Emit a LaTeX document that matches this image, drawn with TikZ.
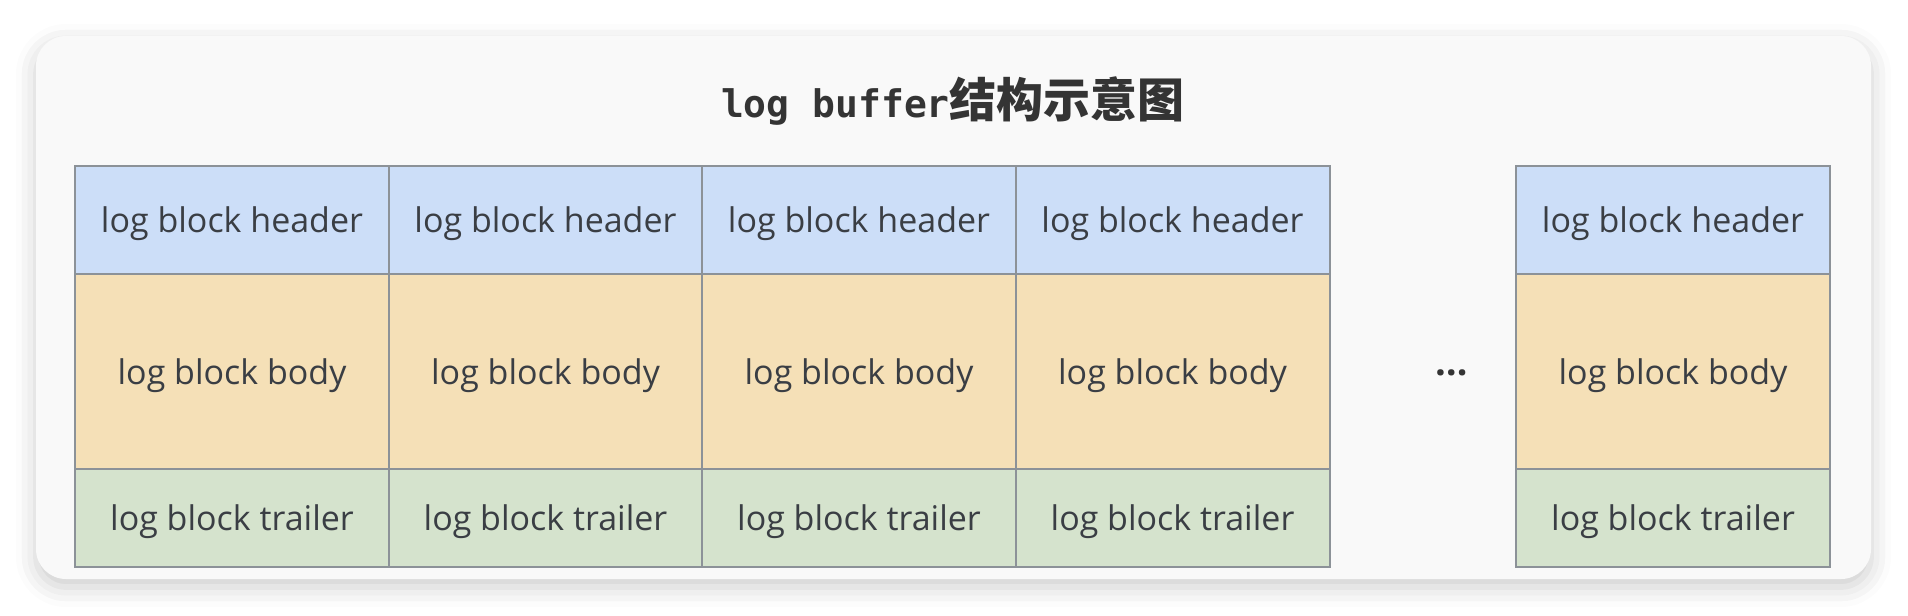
\documentclass[tikz,border=0pt]{standalone}
\usepackage{fontspec}
\setmainfont{Open Sans}
\newfontfamily\cjkfont{Noto Sans CJK SC}
\newfontfamily\titlemono{DejaVu Sans Mono}
\usetikzlibrary{shadows.blur}

\definecolor{cardfill}{RGB}{249,249,249}
\definecolor{hdrblue}{RGB}{204,222,248}
\definecolor{bodysand}{RGB}{245,224,183}
\definecolor{trlgreen}{RGB}{213,227,205}
\definecolor{cellline}{RGB}{140,146,152}
\definecolor{labelgray}{RGB}{58,62,68}
\definecolor{titlegray}{RGB}{52,52,52}

\tikzset{every picture/.style={line width=0.75pt},
  blockcell/.style={draw=cellline, line width=1pt, anchor=north west, inner sep=0pt,
    minimum width=157pt, text=labelgray, text depth=0pt, font=\fontsize{17}{20}\selectfont},
  hdrcell/.style={blockcell, fill=hdrblue, minimum height=54pt},
  bodycell/.style={blockcell, fill=bodysand, minimum height=97.5pt},
  trlcell/.style={blockcell, fill=trlgreen, minimum height=49pt}}

\begin{document}
\begin{tikzpicture}[x=0.5pt,y=0.5pt,yscale=-1,xscale=1]
\useasboundingbox (0,0) rectangle (1908,616);

%Card
\path [fill=cardfill, rounded corners=15pt,
  blur shadow={shadow xshift=0pt, shadow yshift=-4pt, shadow blur radius=10pt, shadow opacity=20}]
  (36,36) rectangle (1871,579);

% Title
\node [text=titlegray] (title) at (953,101) {\titlemono\bfseries\fontsize{19}{22}\selectfont log buffer\cjkfont\fontsize{23.5}{26}\selectfont 结构示意图};

% Blocks
\foreach \i/\x in {1/74, 2/387.5, 3/701, 4/1014.5, 5/1515} {
  \node [hdrcell]  (hdr\i)  at (\x,165) {log block header};
  \node [bodycell] (body\i) at (\x,273) {log block body};
  \node [trlcell]  (trl\i)  at (\x,468) {log block trailer};
}

% Dots
\node [text=titlegray, anchor=base, font=\bfseries\fontsize{19}{22}\selectfont] (dots) at (1452,375) {…};

\end{tikzpicture}
\end{document}
